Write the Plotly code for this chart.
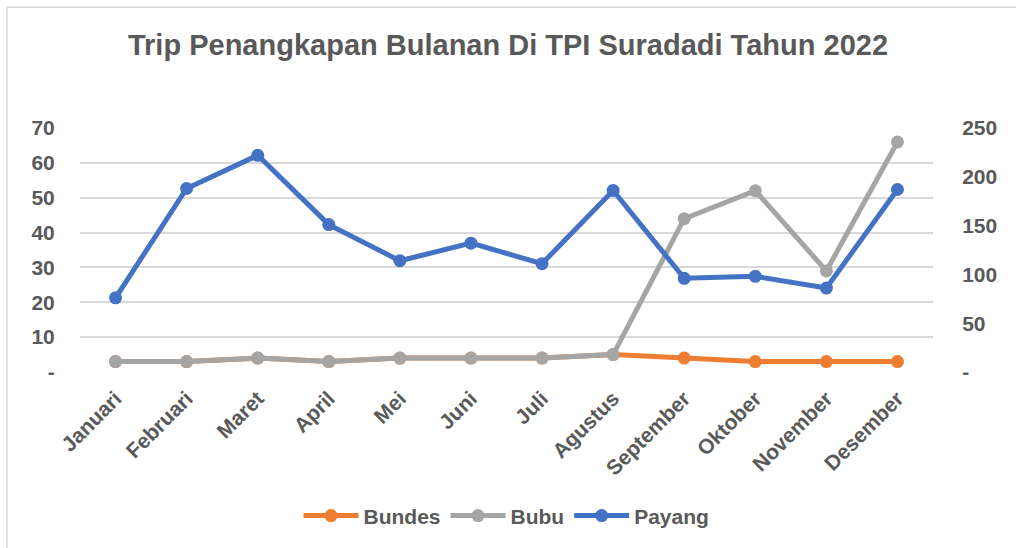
import plotly.graph_objects as go

# data
months = ["Januari", "Februari", "Maret", "April", "Mei", "Juni",
          "Juli", "Agustus", "September", "Oktober", "November", "Desember"]
bundes = [3, 3, 4, 3, 4, 4, 4, 5, 4, 3, 3, 3]
bubu = [3, 3, 4, 3, 4, 4, 4, 5, 44, 52, 29, 66]
payang = [76, 188, 222, 151, 114, 132, 111, 186, 96, 98, 86, 187]

left_ticks = [0, 10, 20, 30, 40, 50, 60, 70]
left_labels = ["-", "10", "20", "30", "40", "50", "60", "70"]
right_ticks = [0, 50, 100, 150, 200, 250]
right_labels = ["-", "50", "100", "150", "200", "250"]

FONT = "Liberation Sans, Arial, sans-serif"
TXT = "#595959"

fig = go.Figure()


def add_series(name, values, color, axis="y"):
    fig.add_trace(go.Scatter(
        x=months, y=values, name=name, yaxis=axis,
        mode="lines+markers",
        line=dict(color=color, width=5),
        marker=dict(color=color, size=13),
    ))


add_series("Bundes", bundes, "#ED7D31")
add_series("Bubu", bubu, "#A5A5A5")
add_series("Payang", payang, "#4472C4", axis="y2")

fig.update_layout(
    width=1016, height=548,
    margin=dict(l=80, r=83, t=128, b=176),
    paper_bgcolor="white", plot_bgcolor="white",
    font=dict(family=FONT, color=TXT, size=21, weight="bold"),
    title=dict(
        text="Trip Penangkapan Bulanan Di TPI Suradadi Tahun 2022",
        x=0.5, xanchor="center", y=0.918, yanchor="middle",
        font=dict(size=29, color=TXT, weight="bold"),
    ),
    xaxis=dict(
        range=[-0.5, 11.5], tickangle=-45, showgrid=False,
        showline=False, zeroline=False,
        ticks="outside", ticklen=5, tickcolor="rgba(0,0,0,0)",
    ),
    yaxis=dict(
        range=[0, 70], tickvals=left_ticks, ticktext=left_labels,
        showgrid=True, gridcolor="#D9D9D9", gridwidth=2, zeroline=False,
        ticks="outside", ticklen=20, tickcolor="rgba(0,0,0,0)",
    ),
    yaxis2=dict(
        range=[0, 250], tickvals=right_ticks, ticktext=right_labels,
        overlaying="y", side="right", showgrid=False, zeroline=False,
        ticks="outside", ticklen=24, tickcolor="rgba(0,0,0,0)",
    ),
    showlegend=True,
    legend=dict(
        orientation="h", x=0.5, xanchor="center", y=-0.59, yanchor="middle",
        itemwidth=55,
        font=dict(size=21, color=TXT, weight="bold"),
    ),
    shapes=[dict(
        type="rect", xref="paper", yref="paper",
        x0=-73 / 853, x1=1.0 + 100 / 853,
        y0=-200 / 244.6, y1=1.0 + 121 / 244.6,
        line=dict(color="#D9D9D9", width=1.5), layer="below",
    )],
)

# page body has a default 8px margin; drop it so the figure sits at 0,0
fig.write_html("out.html", config={"displayModeBar": False},
               post_script="document.body.style.margin='0';")
